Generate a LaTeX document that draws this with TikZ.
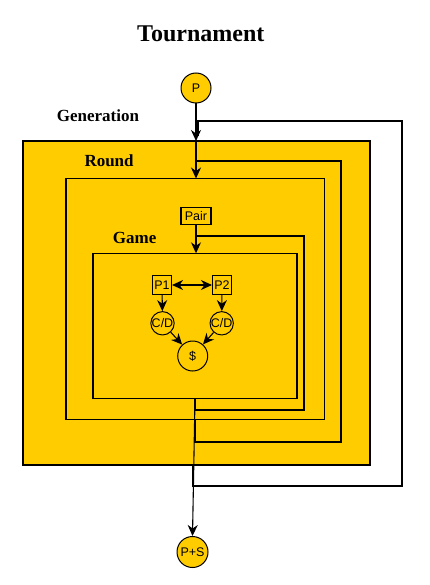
\documentclass[tikz,border=0pt]{standalone}
\usepackage{fontspec}
\setmainfont{Liberation Serif}
\newfontfamily\sansf{Liberation Sans}
\usetikzlibrary{arrows.meta}
\definecolor{gold}{HTML}{FFCC00}
\tikzset{
  frame/.style={draw, fill=gold, line width=1.1pt, inner sep=0pt, outer sep=0pt, anchor=north west},
  box/.style={draw, fill=gold, line width=1.1pt, inner sep=0pt, font=\sansf\fontsize{12.5}{14}\selectfont},
  circ/.style={circle, draw, fill=gold, line width=1pt, inner sep=0pt, font=\sansf\fontsize{12.5}{14}\selectfont},
  lbl/.style={font=\bfseries\fontsize{17}{19}\selectfont, anchor=base west, inner sep=0pt},
  arr/.style={-{Stealth[length=11pt,width=10pt,inset=3.5pt]}, line width=1.1pt},
  ln/.style={line width=1.1pt},
}
\begin{document}
\begin{tikzpicture}[x=1pt,y=-1pt]
\useasboundingbox (0,0) rectangle (430,585);
% title and labels
\node[font=\bfseries\fontsize{24}{27}\selectfont, anchor=base west, inner sep=0pt] (title) at (137,41.7) {Tournament};
\node[lbl] (genlbl) at (56.7,121.7) {Generation};
% frames
\node[frame, minimum width=347pt, minimum height=324pt] (gen) at (23,141) {};
\node[frame, minimum width=258.3pt, minimum height=240.8pt] (round) at (66,178.5) {};
\node[frame, minimum width=204pt, minimum height=145pt] (game) at (93,253.3) {};
\node[lbl] (roundlbl) at (84.3,166.7) {Round};
\node[lbl] (gamelbl) at (112.7,243.3) {Game};
% nodes
\node[circ, minimum size=30pt] (P) at (196,88) {P};
\node[box, minimum width=30pt, minimum height=17pt] (Pair) at (196,215.8) {Pair};
\node[box, minimum width=19pt, minimum height=19pt] (P1) at (162,285) {P1};
\node[box, minimum width=19pt, minimum height=19pt] (P2) at (222,285) {P2};
\node[circ, minimum size=20pt] (CD1) at (162.5,323.3) {C/D};
\node[circ, minimum size=20pt] (CD2) at (221.7,323.3) {C/D};
\node[circ, minimum size=30pt] (S) at (192.7,356) {\$};
\node[circ, minimum size=31pt] (PS) at (192.5,552) {P+S};
% loop coordinates
\coordinate (gout) at (195,398.3);
\coordinate (gl1) at (195,410);
\coordinate (gl2) at (304,410);
\coordinate (gl3) at (304,236);
\coordinate (gl4) at (196,236);
\coordinate (rl0) at (195,419.3);
\coordinate (rl1) at (195,442);
\coordinate (rl2) at (341,442);
\coordinate (rl3) at (341,161);
\coordinate (rl4) at (197,161);
\coordinate (nl0) at (193,465);
\coordinate (nl1) at (193,486);
\coordinate (nl2) at (402,486);
\coordinate (nl3) at (402,121);
\coordinate (nl4) at (198,121);
\coordinate (nl5) at (198,136);
% loops
\draw[ln] (gout) -- (gl1) -- (gl2) -- (gl3) -- (gl4);
\draw[ln] (rl0) -- (rl1) -- (rl2) -- (rl3) -- (rl4);
\draw[ln] (nl0) -- (nl1) -- (nl2) -- (nl3) -- (nl4) -- (nl5);
% main flow
\draw[arr] (P.south) -- (P.south |- gen.north);
\draw[arr] (P.south |- gen.north) -- (P.south |- round.north);
\draw[arr] (Pair.south) -- (Pair.south |- game.north);
\draw[arr] (gout) -- (PS.north);
% game internals
\draw[arr, {Stealth[length=11pt,width=10pt,inset=3.5pt]}-{Stealth[length=11pt,width=10pt,inset=3.5pt]}] (P1) -- (P2);
\draw[arr] (P1) -- (CD1);
\draw[arr] (P2) -- (CD2);
\draw[arr] (CD1) -- (S);
\draw[arr] (CD2) -- (S);
\end{tikzpicture}
\end{document}
